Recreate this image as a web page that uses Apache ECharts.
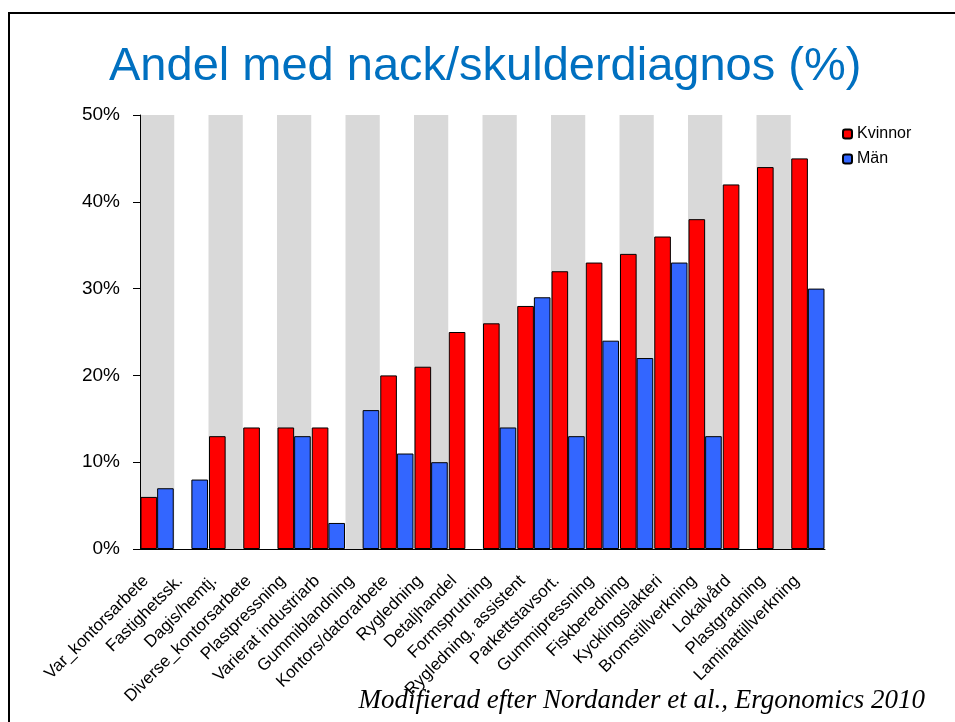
<!DOCTYPE html>
<html>
<head>
<meta charset="utf-8">
<script src="https://cdn.jsdelivr.net/npm/echarts@6/dist/echarts.min.js"></script>
<style>
html, body { margin: 0; padding: 0; background: #fff; }
#main { width: 955px; height: 722px; }
</style>
</head>
<body>
<div id="main"></div>
<script>
// yrken, sorterade efter andel kvinnor
const categories = [
    'Var_kontorsarbete', 'Fastighetssk.', 'Dagis/hemtj.', 'Diverse_kontorsarbete',
    'Plastpressning', 'Varierat industriarb', 'Gummiblandning', 'Kontors/datorarbete',
    'Rygledning', 'Detaljhandel', 'Formsprutning', 'Rygledning, assistent',
    'Parkettstavsort.', 'Gummipressning', 'Fiskberedning', 'Kycklingslakteri',
    'Bromstillverkning', 'Lokalvård', 'Plastgradning', 'Laminattillverkning'
];
// '-' = inget värde
const kvinnor = [6, '-', 13, 14, 14, 14, '-', 20, 21, 25, 26, 28, 32, 33, 34, 36, 38, 42, 44, 45];
const man = [7, 8, '-', '-', 13, 3, 16, 11, 10, '-', 14, 29, 13, 24, 22, 33, 13, '-', '-', 30];
const yTicks = [0, 10, 20, 30, 40, 50];

const font = '"Liberation Sans", Arial, sans-serif';

const chart = echarts.init(document.getElementById('main'));

const option = {
    animation: false,
    textStyle: { fontFamily: font },
    title: {
        text: 'Andel med nack/skulderdiagnos (%)',
        left: 104,
        top: 39,
        textStyle: { color: '#0070C0', fontSize: 47, fontWeight: 'normal', fontFamily: font }
    },
    legend: {
        orient: 'vertical',
        left: 837,
        top: 121,
        itemWidth: 9,
        itemHeight: 9,
        itemGap: 9,
        textStyle: { fontSize: 16, color: '#000', fontFamily: font },
        data: ['Kvinnor', 'Män']
    },
    grid: { left: 140, right: 130, top: 115, bottom: 173 },
    xAxis: {
        type: 'category',
        data: categories,
        axisLine: { lineStyle: { color: '#000', width: 1 } },
        axisTick: { length: 6, lineStyle: { color: '#000' } },
        axisLabel: {
            rotate: 45, fontSize: 17, color: '#000', margin: 18, interval: 0,
            padding: [0, 16, 0, 0], fontFamily: font
        },
        splitArea: { show: true, areaStyle: { color: ['#d9d9d9', 'rgba(255,255,255,0)'] } }
    },
    yAxis: {
        type: 'value',
        min: 0,
        max: 50,
        interval: 10,
        axisLine: { show: true, lineStyle: { color: '#000' } },
        axisTick: { show: true, length: 7, lineStyle: { color: '#000' } },
        axisLabel: {
            fontSize: 19, color: '#000', margin: 20, fontFamily: font,
            formatter: v => yTicks.includes(v) ? v + '%' : ''
        },
        splitLine: { show: true, lineStyle: { color: '#fff', width: 1.5 } }
    },
    series: [
        {
            name: 'Kvinnor',
            type: 'bar',
            data: kvinnor,
            barGap: '0%',
            barCategoryGap: '3%',
            itemStyle: { color: '#FF0000', borderColor: '#000', borderWidth: 1 }
        },
        {
            name: 'Män',
            type: 'bar',
            data: man,
            barGap: '0%',
            barCategoryGap: '3%',
            itemStyle: { color: '#3366FF', borderColor: '#000', borderWidth: 1 }
        }
    ],
    graphic: [
        {
            // ram runt bilden
            type: 'rect',
            shape: { x: 9, y: 13, width: 1000, height: 800 },
            style: { fill: 'none', stroke: '#000', lineWidth: 2 }
        },
        {
            type: 'text',
            right: 30,
            top: 687,
            style: {
                text: 'Modifierad efter Nordander et al., Ergonomics 2010',
                font: 'italic 27px "Liberation Serif", "Times New Roman", serif',
                fill: '#000'
            }
        }
    ]
};

chart.setOption(option);
</script>
</body>
</html>
